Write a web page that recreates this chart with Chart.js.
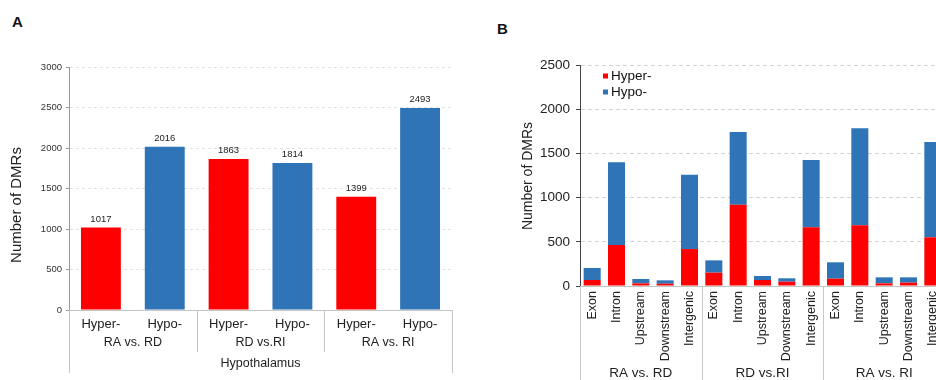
<!DOCTYPE html>
<html>
<head>
<meta charset="utf-8">
<script src="https://cdn.jsdelivr.net/npm/chart.js@4.4.0/dist/chart.umd.min.js"></script>
<style>
body{margin:0;width:936px;height:380px;overflow:hidden;background:#fff;position:relative;font-family:"Liberation Sans",Arial,sans-serif}
.tag{position:absolute;font-weight:bold;font-size:15px;color:#111;line-height:1}
canvas{position:absolute;top:0}
</style>
</head>
<body>
<div class="tag" style="left:12px;top:14px">A</div>
<div class="tag" style="left:497px;top:21px">B</div>
<canvas id="chartA" width="470" height="380" style="left:0"></canvas>
<canvas id="chartB" width="500" height="380" style="left:470px"></canvas>
<script>
// === DADOS ===
const typesA = ['Hyper-', 'Hypo-', 'Hyper-', 'Hypo-', 'Hyper-', 'Hypo-'];
const comparisons = ['RA vs. RD', 'RD vs.RI', 'RA vs. RI'];
const countsA = [1017, 2016, 1863, 1814, 1399, 2493];
const ticksA = [0, 500, 1000, 1500, 2000, 2500, 3000];

const regions = ['Exon', 'Intron', 'Upstream', 'Downstream', 'Intergenic'];
const hyperB = [68, 464, 30, 26, 418, 151, 920, 68, 49, 664, 83, 686, 30, 38, 551];
const hypoB = [136, 935, 49, 38, 841, 139, 822, 45, 38, 761, 185, 1098, 68, 60, 1078];
const ticksB = [0, 500, 1000, 1500, 2000, 2500];

const RED = '#ff0000';
const BLUE = '#2e74b6';
const FONT = '"Liberation Sans", Arial, sans-serif';

// === PLUGINS ===
const valueLabels = {
    id: 'valueLabels',
    afterDatasetsDraw(chart){
        const ctx = chart.ctx;
        const meta = chart.getDatasetMeta(0);
        ctx.save();
        ctx.font = '9.5px ' + FONT;
        ctx.fillStyle = '#222';
        ctx.textAlign = 'center';
        ctx.textBaseline = 'alphabetic';
        meta.data.forEach((bar, i) => ctx.fillText(chart.data.datasets[0].data[i], bar.x, bar.y - 6));
        ctx.restore();
    }
};

// group labels + separators under the x axis, and y title
function groupAxis(opts){
    return {
        id: 'groupAxis',
        afterDraw(chart){
            const ctx = chart.ctx;
            const x = chart.scales.x;
            const area = chart.chartArea;
            const n = opts.groups.length;
            const per = chart.data.labels.length / n;
            const edge = i => {
                if(i === 0) return area.left;
                if(i === chart.data.labels.length) return area.right;
                return (x.getPixelForValue(i - 1) + x.getPixelForValue(i)) / 2;
            };
            ctx.save();
            ctx.strokeStyle = opts.lineColor;
            ctx.lineWidth = 1;
            for(let g = 0; g <= n; g++){
                const px = Math.round(edge(g * per)) + 0.5;
                const outer = (g === 0 || g === n);
                ctx.beginPath();
                ctx.moveTo(px, area.bottom);
                ctx.lineTo(px, outer ? opts.outerBottom : opts.innerBottom);
                ctx.stroke();
            }
            ctx.font = opts.font;
            ctx.fillStyle = '#222';
            ctx.textAlign = 'center';
            ctx.textBaseline = 'middle';
            opts.groups.forEach((name, g) => {
                const cx = (edge(g * per) + edge((g + 1) * per)) / 2;
                ctx.fillText(name, cx, opts.groupY);
            });
            if(opts.footer){
                ctx.fillText(opts.footer, (area.left + area.right) / 2, opts.footerY);
            }
            // y title
            ctx.translate(opts.titleX, opts.titleY);
            ctx.rotate(-Math.PI / 2);
            ctx.font = opts.titleFont;
            ctx.fillText('Number of DMRs', 0, 0);
            ctx.restore();
        }
    };
}

const legendB = {
    id: 'legendB',
    afterDraw(chart){
        const ctx = chart.ctx;
        const left = chart.chartArea.left + 23;
        ctx.save();
        ctx.font = '13.5px ' + FONT;
        ctx.textBaseline = 'middle';
        chart.data.datasets.forEach((ds, i) => {
            const y = 76 + i * 16;
            ctx.fillStyle = ds.backgroundColor;
            ctx.fillRect(left, y - 2.5, 5, 5);
            ctx.fillStyle = '#111';
            ctx.fillText(ds.label, left + 8, y);
        });
        ctx.restore();
    }
};

// === GRÁFICO A ===
new Chart(document.getElementById('chartA'), {
    type: 'bar',
    data: {
        labels: typesA,
        datasets: [{
            data: countsA,
            backgroundColor: typesA.map(t => t === 'Hyper-' ? RED : BLUE),
            barPercentage: 0.625,
            categoryPercentage: 1
        }]
    },
    options: {
        responsive: false,
        animation: false,
        layout: { padding: { left: 0, top: 67, right: 18, bottom: 0 } },
        plugins: { legend: { display: false }, tooltip: { enabled: false } },
        scales: {
            x: {
                afterFit: s => { s.height = 70; },
                grid: { display: false, drawTicks: false },
                border: { color: '#c4c4c4' },
                ticks: { color: '#222', font: { size: 13, family: FONT }, padding: 7, maxRotation: 0 }
            },
            y: {
                min: 0, max: 3000,
                afterFit: s => { s.width = 69; },
                afterBuildTicks: s => { s.ticks = ticksA.map(v => ({ value: v })); },
                grid: { color: '#e2e2e2', tickLength: 3, tickColor: '#999' },
                border: { color: '#999', dash: [3, 3] },
                ticks: { color: '#333', font: { size: 9.5, family: FONT }, padding: 4, callback: v => String(v) }
            }
        }
    },
    plugins: [valueLabels, groupAxis({
        groups: comparisons, lineColor: '#c4c4c4', outerBottom: 373, innerBottom: 352,
        groupY: 343, font: '12.5px ' + FONT, footer: 'Hypothalamus', footerY: 364,
        titleX: 17, titleY: 205, titleFont: '15px ' + FONT
    })]
});

// === GRÁFICO B ===
new Chart(document.getElementById('chartB'), {
    type: 'bar',
    data: {
        labels: comparisons.flatMap(() => regions),
        datasets: [
            { label: 'Hyper-', data: hyperB, backgroundColor: RED, barPercentage: 0.7, categoryPercentage: 1 },
            { label: 'Hypo-', data: hypoB, backgroundColor: BLUE, barPercentage: 0.7, categoryPercentage: 1 }
        ]
    },
    options: {
        responsive: false,
        animation: false,
        layout: { padding: { left: 0, top: 65, right: 25, bottom: 0 } },
        plugins: { legend: { display: false }, tooltip: { enabled: false } },
        scales: {
            x: {
                stacked: true,
                afterFit: s => { s.height = 94; },
                grid: { display: false, drawTicks: false },
                border: { color: '#c4c4c4' },
                ticks: { color: '#222', font: { size: 12.5, family: FONT }, padding: 5,
                         minRotation: 90, maxRotation: 90, autoSkip: false }
            },
            y: {
                stacked: true,
                min: 0, max: 2500,
                afterFit: s => { s.width = 110; },
                afterBuildTicks: s => { s.ticks = ticksB.map(v => ({ value: v })); },
                grid: { color: '#d4d4d4', tickLength: 4, tickColor: '#444' },
                border: { color: '#444', dash: [4, 3] },
                ticks: { color: '#222', font: { size: 13.5, family: FONT }, padding: 6, callback: v => String(v) }
            }
        }
    },
    plugins: [legendB, groupAxis({
        groups: comparisons, lineColor: '#c8c8c8', outerBottom: 380, innerBottom: 380,
        groupY: 373, font: '13.5px ' + FONT,
        titleX: 58, titleY: 176, titleFont: '14px ' + FONT
    })]
});
</script>
</body>
</html>
